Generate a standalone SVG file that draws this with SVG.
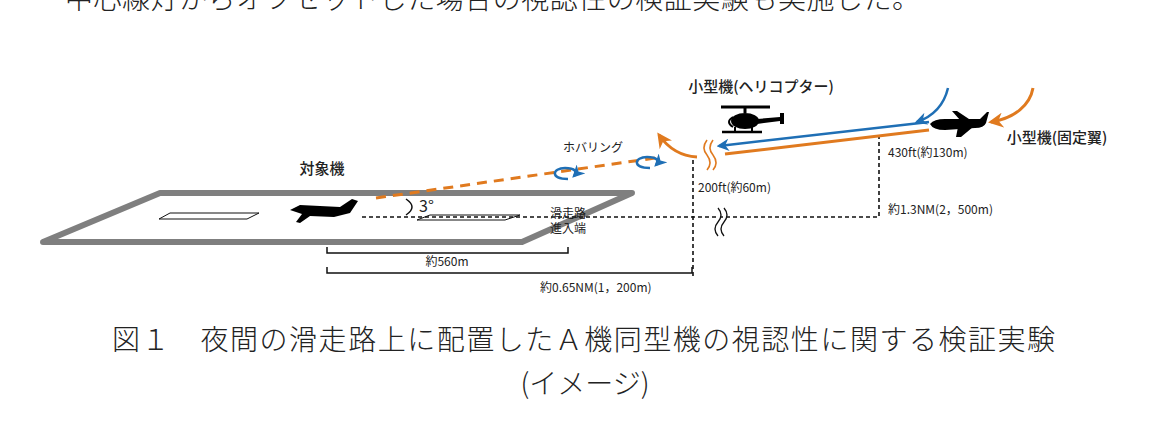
<svg xmlns="http://www.w3.org/2000/svg" width="1175" height="424" viewBox="0 0 1175 424">
<defs>
<style>
.t{font-family:"Noto Sans CJK JP","Liberation Sans",sans-serif;fill:#222}
.c{font-family:"Noto Sans CJK JP","Liberation Serif",serif;fill:#222;font-weight:300}
.blk{stroke:#111;fill:none;stroke-width:1.5}
.dash{stroke:#111;fill:none;stroke-width:1.6;stroke-dasharray:4 3}
.or{stroke:#e07a1f;fill:none;stroke-width:3}
.bl{stroke:#1f6fb5;fill:none;stroke-width:2.5}
</style>
<marker id="ab" viewBox="0 0 10 10" refX="8" refY="5" markerWidth="5" markerHeight="5" orient="auto"><path d="M0,0 L10,5 L0,10 L3,5z" fill="#1f6fb5"/></marker>
<marker id="ao" viewBox="0 0 10 10" refX="8" refY="5" markerWidth="5" markerHeight="5" orient="auto"><path d="M0,0 L10,5 L0,10 L3,5z" fill="#e07a1f"/></marker>
</defs>
<rect width="1175" height="424" fill="#fff"/>
<text class="c" x="65" y="9" font-size="28" textLength="855">中心線灯からオフセットした場合の視認性の検証実験も実施した。</text>

<g id="runway">
<polygon points="160,193 632,193 522,242 43,242" fill="#fff" stroke="#7f7f7f" stroke-width="6" stroke-linejoin="round"/>
<polygon points="159,219 170,213 259,213 247,219" fill="#fff" stroke="#111" stroke-width="1"/>
<polygon points="417,220 430,215 520,215 505,220" fill="#fff" stroke="#111" stroke-width="1"/>
</g>

<g id="connectors">
<path class="or" d="M376,198 L655,158" stroke-dasharray="10 7"/>
<path class="dash" d="M362,217 L879,217 L879,137"/>
<path class="dash" d="M693,160 L693,276"/>
<path d="M718,208 q6,7 0,14 q-6,7 0,14 M724,208 q6,7 0,14 q-6,7 0,14" stroke="#111" stroke-width="1.3" fill="#fff"/>
<path d="M406,199 q12,8 0,16" class="blk"/>
<path d="M327,247 V253 H568 V247" class="blk"/>
<path d="M327,267 V273 H692 V267" class="blk"/>
<path class="bl" d="M929,122 L719,146" marker-end="url(#ab)"/>
<path class="or" d="M929,130 L725,154"/>
<path class="bl" d="M948,88 C944,105 934,116 917,122" marker-end="url(#ab)"/>
<path class="or" d="M1033,88 C1030,105 1015,118 991,122" marker-end="url(#ao)"/>
<path class="or" d="M697,157 C680,156 668,148 659,135" marker-end="url(#ao)"/>
<path d="M707,140 q-6,8 0,15 q6,8 0,15 M713,140 q-6,8 0,15 q6,8 0,15" stroke="#e07a1f" stroke-width="1.6" fill="#fff"/>
<path class="bl" d="M568,179 C550,179 552,168 565,168 C575,168 578,172 574,176" marker-end="url(#ab)"/>
<path class="bl" d="M650,168 C632,168 634,157 647,157 C657,157 660,161 656,165" marker-end="url(#ab)"/>
</g>

<g id="target-plane">
<path d="M290,210 L300,205 L340,207 L352,199 L358,201 L350,213 L334,217 L310,216 L300,223 L296,222 L302,214 Z" fill="#000"/>
<text class="t" x="322" y="174" font-size="15" font-weight="500" text-anchor="middle">対象機</text>
</g>

<g id="helicopter">
<line x1="721" y1="107" x2="770" y2="107" stroke="#000" stroke-width="3"/>
<line x1="745" y1="107" x2="745" y2="113" stroke="#000" stroke-width="3"/>
<ellipse cx="745" cy="121" rx="14" ry="8" fill="#000"/>
<path d="M757,119 L780,117 L780,113 L784,113 L784,124 L780,124 L780,121 L757,124Z" fill="#000"/>
<path d="M733,117 q-8,5 0,10" stroke="#000" stroke-width="2" fill="none"/>
<line x1="722" y1="132" x2="762" y2="132" stroke="#000" stroke-width="2.5"/>
<line x1="735" y1="127" x2="735" y2="132" stroke="#000" stroke-width="2"/>
<line x1="752" y1="127" x2="752" y2="132" stroke="#000" stroke-width="2"/>
<text class="t" x="761" y="92" font-size="15" text-anchor="middle" font-weight="500">小型機(ヘリコプター)</text>
</g>

<g id="fixed-wing">
<path d="M930,124 Q934,119 945,119 L980,119 L987,112 L989,112 L986,123 Q984,128 975,128 L945,130 Q933,130 930,124Z" fill="#000"/>
<path d="M960,120 L952,111 L957,111 L972,121Z M958,127 L973,127 L961,137 L956,137Z" fill="#000"/>
<text class="t" x="1057" y="143" font-size="15" text-anchor="middle" font-weight="500">小型機(固定翼)</text>
</g>

<g id="labels">
<text class="t" x="563" y="152" font-size="12">ホバリング</text>
<text class="t" x="419" y="212" font-size="16">3°</text>
<text class="t" x="550" y="218" font-size="12">滑走路</text>
<text class="t" x="550" y="233" font-size="12">進入端</text>
<text class="t" x="447" y="266" font-size="12" text-anchor="middle">約560m</text>
<text class="t" x="540" y="292" font-size="12">約0.65NM(1，200m)</text>
<text class="t" x="698" y="192" font-size="12">200ft(約60m)</text>
<text class="t" x="888" y="157" font-size="12">430ft(約130m)</text>
<text class="t" x="888" y="214" font-size="12">約1.3NM(2，500m)</text>
</g>

<g id="caption">
<text class="c" x="112" y="350" font-size="28" textLength="943">図１　夜間の滑走路上に配置したＡ機同型機の視認性に関する検証実験</text>
<text class="c" x="585" y="394" font-size="28" text-anchor="middle">(イメージ)</text>
</g>
</svg>
